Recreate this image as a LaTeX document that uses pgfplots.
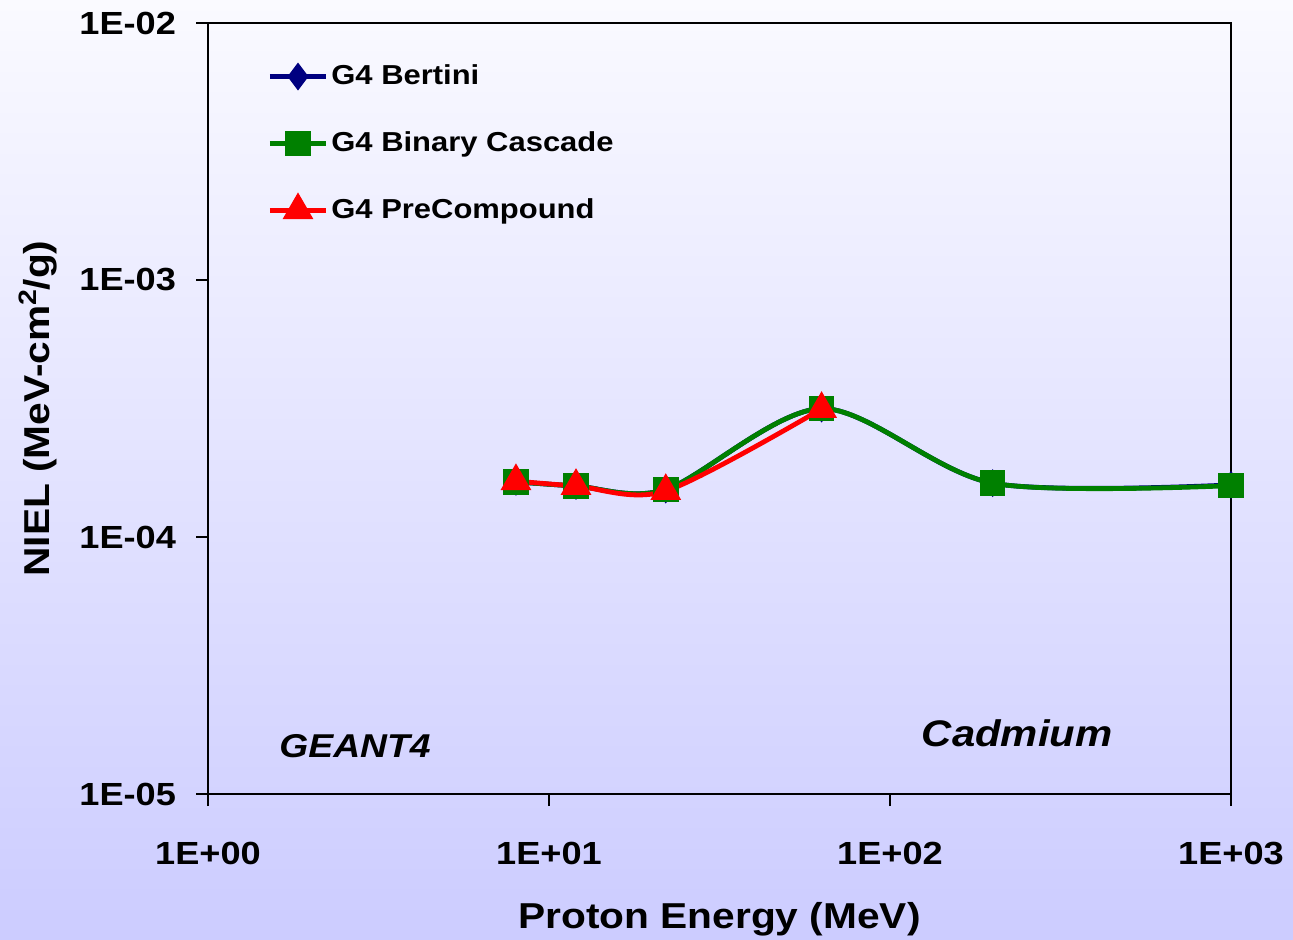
\documentclass[border=0pt]{standalone}
\usepackage{pgfplots}
\pgfplotsset{compat=1.18}
\usepackage{fontspec}
\setmainfont{Liberation Sans}[FakeStretch=1.13]
\definecolor{bertini}{RGB}{0,0,128}
\definecolor{binary}{RGB}{0,128,0}
\definecolor{precomp}{RGB}{255,0,0}
\definecolor{bgtop}{RGB}{250,250,255}
\definecolor{bgbottom}{RGB}{204,204,255}

\begin{document}
\begin{tikzpicture}
% page background
\fill[top color=bgtop, bottom color=bgbottom] (-104pt,-73pt) rectangle (542.5pt,397pt);
\begin{axis}[
  at={(0,0)}, anchor=south west,
  scale only axis, width=511.5pt, height=385.5pt,
  xmode=log, ymode=log,
  xmin=1, xmax=1000, ymin=1e-5, ymax=1e-2,
  xtick={1,10,100,1000}, ytick={1e-5,1e-4,1e-3,1e-2},
  xticklabels={1E+00,1E+01,1E+02,1E+03},
  yticklabels={1E-05,1E-04,1E-03,1E-02},
  xminorticks=false, yminorticks=false,
  tick align=outside, major tick length=6pt,
  xtick pos=bottom, ytick pos=left,
  axis line style={line width=1.4pt},
  every tick/.style={black, line width=1.2pt},
  ticklabel style={font=\fontsize{16}{19}\selectfont\bfseries},
  xticklabel style={yshift=-14.5pt},
  yticklabel style={xshift=-6.5pt},
  xlabel={Proton Energy (MeV)},
  ylabel={NIEL (MeV-cm$^{\mathbf{2}}$/g)},
  label style={font=\fontsize{18}{22}\selectfont\bfseries},
  xlabel style={at={(axis description cs:0.5,-0.162)}, anchor=center},
  ylabel style={at={(axis description cs:-0.1662,0.5)}, anchor=center, rotate=0},
  legend style={at={(rel axis cs:0.052,0.955)}, anchor=north west, draw=none, fill=none,
    font=\fontsize{13.7}{16}\selectfont\bfseries, row sep=19pt,
    nodes={inner sep=1.5pt}},
  legend cell align=left,
  legend image code/.code={\draw[mark repeat=2,mark phase=2,#1] plot coordinates {(0pt,0pt) (14pt,0pt) (28pt,0pt)};},
]
\addplot[color=bertini, line width=2.4pt, smooth, mark=diamond*, mark size=5pt, mark options={solid}]
  coordinates {(8,1.64e-4) (12,1.58e-4) (22,1.53e-4) (63,3.16e-4) (200,1.62e-4) (1000,1.595e-4)};
\addlegendentry{G4 Bertini}
\addplot[color=binary, line width=2.4pt, smooth, mark=square*, mark size=5.2pt, mark options={solid}]
  coordinates {(8,1.64e-4) (12,1.58e-4) (22,1.53e-4) (63,3.16e-4) (200,1.62e-4) (1000,1.585e-4)};
\addlegendentry{G4 Binary Cascade}
\addplot[color=precomp, line width=2.4pt, smooth, mark=triangle*, mark size=6.5pt, mark options={solid}]
  coordinates {(8,1.65e-4) (12,1.58e-4) (22,1.51e-4) (63,3.15e-4)};
\addlegendentry{G4 PreCompound}
\node[font=\fontsize{16.5}{20}\selectfont\bfseries\itshape] at (rel axis cs:0.1437,0.0623) {GEANT4};
\node[font=\fontsize{18.5}{22}\selectfont\bfseries\itshape] at (rel axis cs:0.791,0.079) {Cadmium};
\end{axis}
\pgfresetboundingbox
\path (-104pt,-73pt) rectangle (542.5pt,397pt);
\end{tikzpicture}
\end{document}
